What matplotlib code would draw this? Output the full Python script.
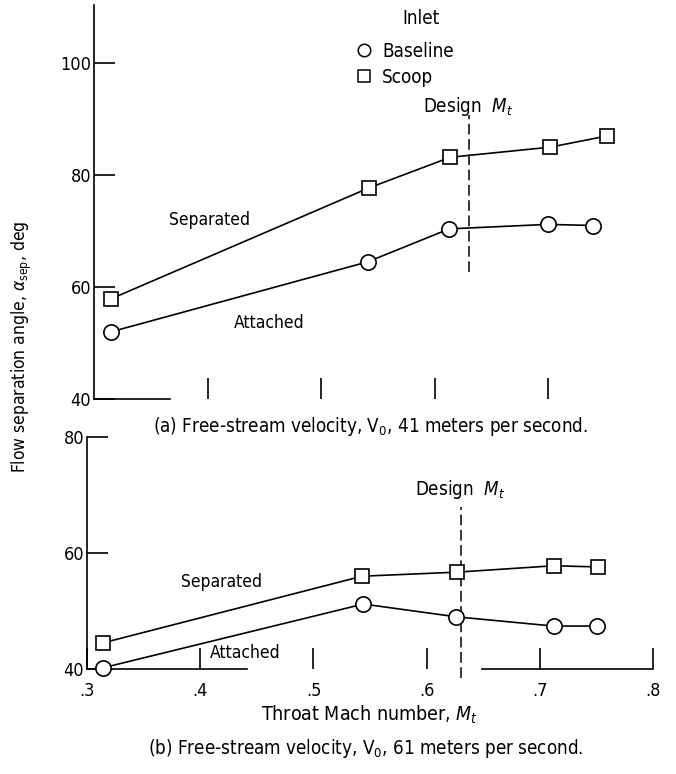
import matplotlib
matplotlib.use("Agg")
import matplotlib.pyplot as plt
from matplotlib.lines import Line2D

plt.rcParams["font.family"] = ["DejaVu Sans"]
plt.rcParams["font.stretch"] = "condensed"
plt.rcParams["mathtext.fontset"] = "dejavusans"

# (a) V0 = 41 m/s
mach_a = [0.315, 0.542, 0.614, 0.702, 0.752]
scoop_a = [57.9, 77.7, 83.2, 85.0, 87.0]
mach_a_base = [0.315, 0.541, 0.613, 0.700, 0.740]
base_a = [52.0, 64.5, 70.4, 71.2, 71.0]

# (b) V0 = 61 m/s
mach_b = [0.314, 0.543, 0.627, 0.712, 0.751]
scoop_b = [44.5, 56.0, 56.7, 57.8, 57.6]
mach_b_base = [0.314, 0.544, 0.626, 0.712, 0.750]
base_b = [40.2, 51.2, 49.0, 47.4, 47.4]

design_mt = 0.63
yticks_a = [40, 60, 80, 100]
yticks_b = [40, 60, 80]
xticks = [0.3, 0.4, 0.5, 0.6, 0.7, 0.8]
xticklabels = [".3", ".4", ".5", ".6", ".7", ".8"]

W, H = 676, 774
fig = plt.figure(figsize=(W / 100, H / 100), dpi=100)

def px_axes(left, right, bottom, top):
    return fig.add_axes([left / W, 1 - bottom / H, (right - left) / W, (bottom - top) / H])

ax1 = px_axes(94, 661.5, 399, 5)
ax2 = px_axes(87, 653.25, 669, 437)
ax1.set_xlim(0.3, 0.8)
ax1.set_ylim(40, 110.4)
ax2.set_xlim(0.3, 0.8)
ax2.set_ylim(40, 80)

fs = 12.5
lw = 1.2
for ax in (ax1, ax2):
    for s in ("top", "right", "bottom"):
        ax.spines[s].set_visible(False)
    ax.spines["left"].set_linewidth(lw)
    ax.tick_params(axis="y", direction="in", length=15, width=lw, labelsize=13, pad=2)
    ax.tick_params(axis="x", direction="in", length=15, width=lw, labelsize=13, pad=9)
    ax.patch.set_visible(False)

mk = dict(color="black", lw=lw, mfc="white", mec="black", mew=1.2, clip_on=False, zorder=3)

# top panel
ax1.plot(mach_a, scoop_a, marker="s", ms=10, **mk)
ax1.plot(mach_a_base, base_a, marker="o", ms=11, **mk)
ax1.set_yticks(yticks_a)
ax1.set_xticks(xticks[1:5])
ax1.set_xticklabels([])
ax1.plot([0.3, 0.367], [40, 40], color="black", lw=lw, clip_on=False)
ax1.plot([design_mt, design_mt], [62.7, 90.7], color="black", lw=1.1, dashes=(7, 3))
ax1.text(design_mt, 92.3, "Design  $M_t$", ha="center", va="center", fontsize=13.5)
ax1.text(0.402, 72, "Separated", ha="center", va="center", fontsize=fs)
ax1.text(0.454, 53.6, "Attached", ha="center", va="center", fontsize=fs)

handles = [
    Line2D([], [], ls="none", marker="o", ms=9, mfc="white", mec="black", mew=1.1),
    Line2D([], [], ls="none", marker="s", ms=8, mfc="white", mec="black", mew=1.1),
]
ax1.legend(handles, ["Baseline", "Scoop"], frameon=False,
           loc="upper left", bbox_to_anchor=(356 / W, 1 - 42 / H),
           bbox_transform=fig.transFigure, fontsize=13.5,
           handlelength=0.8, handletextpad=0.6, labelspacing=0.35,
           borderpad=0, borderaxespad=0)
fig.text(421 / W, 1 - 19 / H, "Inlet", ha="center", va="center", fontsize=13.5)

# bottom panel
ax2.plot(mach_b, scoop_b, marker="s", ms=10, **mk)
ax2.plot(mach_b_base, base_b, marker="o", ms=11, **mk)
ax2.set_yticks(yticks_b)
ax2.set_xticks(xticks)
ax2.set_xticklabels(xticklabels)
ax2.plot([0.3, 0.441], [40, 40], color="black", lw=lw, clip_on=False)
ax2.plot([0.649, 0.8], [40, 40], color="black", lw=lw, clip_on=False)
ax2.plot([design_mt, design_mt], [38.4, 67.9], color="black", lw=1.1, dashes=(7, 3), clip_on=False)
ax2.text(design_mt, 70.9, "Design  $M_t$", ha="center", va="center", fontsize=13.5)
ax2.text(0.419, 55, "Separated", ha="center", va="center", fontsize=fs)
ax2.text(0.44, 42.8, "Attached", ha="center", va="center", fontsize=fs)

fig.text(371 / W, 1 - 427 / H, r"(a) Free-stream velocity, V$_0$, 41 meters per second.",
         ha="center", va="center", fontsize=13.5)
fig.text(370 / W, 1 - 715 / H, "Throat Mach number, $M_t$", ha="center", va="center", fontsize=14)
fig.text(366 / W, 1 - 748 / H, r"(b) Free-stream velocity, V$_0$, 61 meters per second.",
         ha="center", va="center", fontsize=13.5)
fig.text(22 / W, 1 - 347 / H, r"Flow separation angle, $\alpha_\mathrm{sep}$, deg",
         rotation=90, ha="center", va="center", fontsize=12.5)

fig.savefig("out.png", dpi=100, facecolor="white")
